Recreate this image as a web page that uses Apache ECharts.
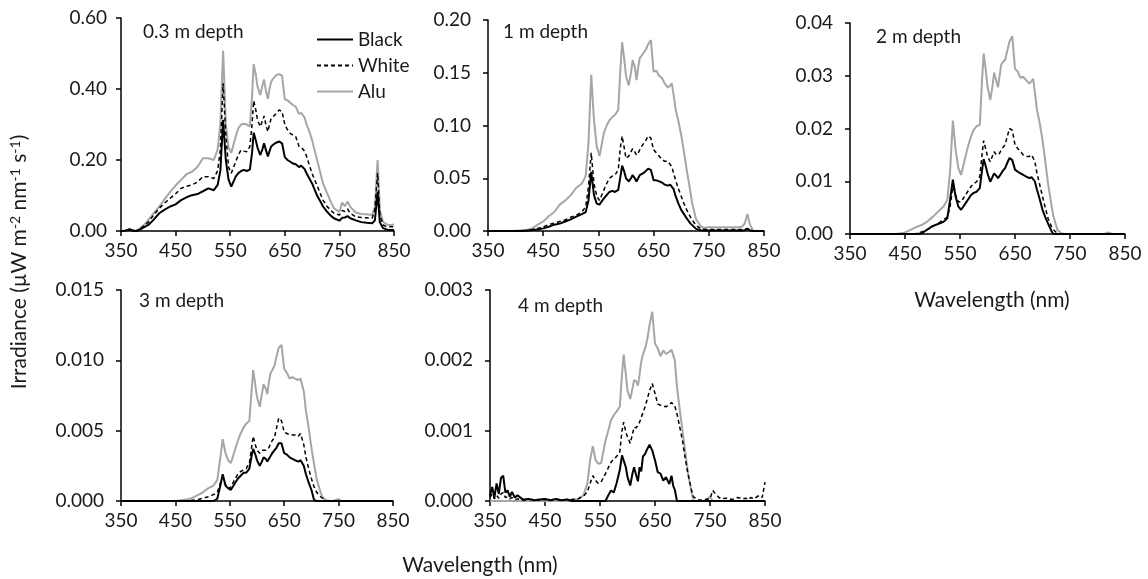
<!DOCTYPE html>
<html>
<head>
<meta charset="utf-8">
<script src="https://cdn.jsdelivr.net/npm/echarts@6/dist/echarts.min.js"></script>
<style>
  html, body { margin: 0; padding: 0; background: #fff; }
  #chart { width: 1148px; height: 579px; }
</style>
</head>
<body>
<div id="chart"></div>
<script>
// wavelength grid (nm), shared by every panel
const wl = [
  350, 354, 358, 362, 366, 370, 374, 378, 382, 386, 390, 395,
  400, 410, 420, 430, 440, 450, 460, 470, 480, 490, 500, 510, 520,
  527, 532, 537, 542, 547, 552,
  560, 565, 570, 575, 580, 586, 590, 593, 597, 600,
  605, 609, 612, 616, 619, 622, 625, 628, 632, 636, 640, 645,
  650, 655, 660, 665, 670, 676, 680, 683, 686, 690, 695, 700,
  705, 710, 717, 720, 727, 735, 740, 750, 755, 760, 765, 770,
  780, 790, 800, 810, 815, 820, 824, 830, 835, 840, 845, 850
];

// 0.3 m depth
const black03 = [
  0, 0, 0.001, 0.003, 0.004, 0.002, 0, 0, 0.002, 0.005, 0.009, 0.013,
  0.017, 0.032, 0.05, 0.06, 0.069, 0.075, 0.087, 0.095, 0.101, 0.104, 0.112, 0.12, 0.115,
  0.13, 0.17, 0.313, 0.2, 0.145, 0.125,
  0.153, 0.163, 0.169, 0.172, 0.169, 0.173, 0.22, 0.277, 0.255, 0.235,
  0.214, 0.23, 0.247, 0.225, 0.21, 0.225, 0.238, 0.24, 0.247, 0.25, 0.252, 0.247,
  0.208, 0.2, 0.195, 0.19, 0.188, 0.18, 0.184, 0.187, 0.175, 0.162, 0.148, 0.134,
  0.115, 0.097, 0.078, 0.069, 0.055, 0.042, 0.036, 0.029, 0.037, 0.038, 0.042, 0.036,
  0.03, 0.025, 0.023, 0.022, 0.03, 0.111, 0.025, 0.008, 0.005, 0.003, 0.003, 0.003
];
const white03 = [
  0, 0, 0.001, 0.003, 0.005, 0.003, 0.001, 0, 0.003, 0.007, 0.012, 0.018,
  0.025, 0.045, 0.064, 0.079, 0.092, 0.105, 0.12, 0.126, 0.13, 0.138, 0.153, 0.153, 0.148,
  0.17, 0.23, 0.416, 0.27, 0.18, 0.163,
  0.195, 0.215, 0.228, 0.225, 0.223, 0.238, 0.3, 0.367, 0.34, 0.313,
  0.294, 0.31, 0.324, 0.295, 0.28, 0.3, 0.317, 0.322, 0.327, 0.335, 0.341, 0.336,
  0.3, 0.285, 0.275, 0.27, 0.266, 0.238, 0.236, 0.24, 0.225, 0.21, 0.185, 0.162,
  0.143, 0.125, 0.098, 0.087, 0.07, 0.057, 0.05, 0.045, 0.058, 0.055, 0.062, 0.05,
  0.04, 0.038, 0.037, 0.036, 0.06, 0.163, 0.045, 0.017, 0.013, 0.012, 0.012, 0.012
];
const alu03 = [
  0, 0, 0.002, 0.004, 0.006, 0.004, 0.002, 0.001, 0.004, 0.009, 0.015, 0.022,
  0.031, 0.05, 0.069, 0.09, 0.11, 0.128, 0.144, 0.16, 0.167, 0.18, 0.205, 0.205, 0.2,
  0.23, 0.3, 0.508, 0.3, 0.235, 0.22,
  0.266, 0.29, 0.3, 0.302, 0.3, 0.295, 0.38, 0.47, 0.44, 0.407,
  0.383, 0.41, 0.427, 0.39, 0.372, 0.4, 0.42, 0.428, 0.435, 0.44, 0.442, 0.437,
  0.371, 0.368, 0.361, 0.355, 0.35, 0.33, 0.333, 0.336, 0.32, 0.3, 0.28, 0.256,
  0.225, 0.195, 0.152, 0.134, 0.108, 0.08, 0.064, 0.054, 0.08, 0.07, 0.083, 0.068,
  0.052, 0.048, 0.047, 0.045, 0.069, 0.2, 0.06, 0.026, 0.02, 0.017, 0.017, 0.018
];

// 1 m depth
const black1 = [
  0, 0, 0, 0, 0, 0, 0, 0, 0, 0, 0, 0,
  0, 0, 0.0003, 0.001, 0.0015, 0.0025, 0.004, 0.006, 0.007, 0.009, 0.011, 0.0136, 0.016,
  0.018, 0.029, 0.056, 0.034, 0.026, 0.025,
  0.031, 0.034, 0.037, 0.038, 0.037, 0.039, 0.052, 0.062, 0.056, 0.05,
  0.047, 0.05, 0.053, 0.05, 0.047, 0.05, 0.053, 0.054, 0.055, 0.057, 0.059, 0.058,
  0.048, 0.048, 0.047, 0.046, 0.044, 0.043, 0.044, 0.044, 0.04, 0.033, 0.026, 0.02,
  0.016, 0.012, 0.007, 0.0057, 0.002, 0.0007, 0.0005, 0.0005, 0.0005, 0.0005, 0.0005, 0.0005,
  0.0005, 0.0005, 0.0005, 0.0005, 0.0008, 0.002, 0.0008, 0, 0, 0, 0, 0
];
const white1 = [
  0, 0, 0, 0, 0, 0, 0, 0, 0, 0, 0, 0,
  0, 0.0003, 0.0008, 0.0015, 0.0025, 0.004, 0.006, 0.0073, 0.009, 0.0105, 0.013, 0.015, 0.018,
  0.023, 0.042, 0.074, 0.045, 0.033, 0.029,
  0.039, 0.045, 0.05, 0.052, 0.053, 0.058, 0.08, 0.09, 0.078, 0.069,
  0.071, 0.075, 0.078, 0.075, 0.072, 0.074, 0.077, 0.08, 0.083, 0.086, 0.09, 0.088,
  0.077, 0.074, 0.071, 0.068, 0.066, 0.066, 0.063, 0.061, 0.055, 0.048, 0.04, 0.033,
  0.026, 0.02, 0.013, 0.0105, 0.005, 0.0025, 0.0016, 0.0015, 0.0015, 0.0015, 0.0015, 0.0015,
  0.0015, 0.0015, 0.0015, 0.0015, 0.0018, 0.0025, 0.0015, 0, 0, 0, 0, 0
];
const alu1 = [
  0, 0, 0, 0, 0, 0, 0, 0, 0, 0, 0, 0,
  0.0003, 0.0006, 0.0012, 0.0025, 0.006, 0.009, 0.014, 0.018, 0.025, 0.029, 0.034, 0.041, 0.045,
  0.052, 0.083, 0.148, 0.105, 0.08, 0.071,
  0.093, 0.1, 0.105, 0.108, 0.11, 0.115, 0.155, 0.179, 0.162, 0.147,
  0.138, 0.15, 0.162, 0.155, 0.143, 0.155, 0.164, 0.166, 0.169, 0.172, 0.177, 0.181,
  0.151, 0.152, 0.147, 0.145, 0.14, 0.136, 0.138, 0.14, 0.13, 0.115, 0.104, 0.091,
  0.075, 0.058, 0.036, 0.026, 0.011, 0.005, 0.003, 0.0035, 0.0035, 0.0035, 0.0035, 0.0035,
  0.0035, 0.0035, 0.0035, 0.004, 0.007, 0.016, 0.007, 0.0003, 0, 0, 0, 0
];

// 2 m depth
const black2 = [
  0, 0, 0, 0, 0, 0, 0, 0, 0, 0, 0, 0,
  0, 0, 0, 0, 0, 0, 0, 0, 0.0001, 0.0008, 0.0015, 0.0019, 0.0023,
  0.003, 0.0065, 0.0103, 0.0071, 0.0052, 0.0046,
  0.0058, 0.0066, 0.0074, 0.0078, 0.008, 0.0087, 0.012, 0.0142, 0.0128, 0.0115,
  0.0099, 0.0108, 0.0115, 0.011, 0.0106, 0.011, 0.0115, 0.012, 0.0125, 0.0135, 0.0144, 0.014,
  0.0122, 0.0118, 0.0115, 0.0112, 0.0109, 0.0106, 0.0108, 0.0109, 0.01, 0.0084, 0.0066, 0.0046,
  0.0032, 0.002, 0.0004, 0, 0, 0, 0, 0, 0, 0, 0, 0,
  0, 0, 0, 0, 0, 0, 0, 0, 0, 0, 0, 0
];
const white2 = [
  0, 0, 0, 0, 0, 0, 0, 0, 0, 0, 0, 0,
  0, 0, 0, 0, 0, 0, 0, 0.0001, 0.0004, 0.0008, 0.0014, 0.002, 0.0027,
  0.0032, 0.0052, 0.009, 0.0074, 0.0061, 0.0061,
  0.0074, 0.0082, 0.009, 0.0095, 0.0099, 0.0109, 0.015, 0.0177, 0.016, 0.0147,
  0.0137, 0.0148, 0.0156, 0.015, 0.0147, 0.0153, 0.016, 0.0164, 0.0169, 0.0185, 0.02, 0.0197,
  0.0169, 0.0162, 0.0156, 0.015, 0.0147, 0.0147, 0.015, 0.0153, 0.0138, 0.0115, 0.0093, 0.0071,
  0.005, 0.003, 0.0012, 0.0008, 0.0001, 0, 0, 0, 0, 0, 0, 0,
  0, 0, 0, 0, 0, 0, 0, 0, 0, 0, 0, 0
];
const alu2 = [
  0, 0, 0, 0, 0, 0, 0, 0, 0, 0, 0, 0,
  0, 0, 0, 0, 0.0001, 0.0003, 0.0008, 0.0013, 0.0017, 0.0023, 0.0032, 0.0042, 0.0052,
  0.0065, 0.012, 0.0215, 0.016, 0.0125, 0.0112,
  0.0147, 0.0168, 0.0185, 0.0198, 0.0204, 0.0207, 0.029, 0.0342, 0.031, 0.028,
  0.0254, 0.028, 0.0306, 0.029, 0.0278, 0.03, 0.0321, 0.0326, 0.033, 0.0348, 0.0365, 0.0375,
  0.0313, 0.0308, 0.0296, 0.0298, 0.0292, 0.0285, 0.029, 0.0294, 0.027, 0.0235, 0.021, 0.0178,
  0.0138, 0.0096, 0.005, 0.0033, 0.0008, 0.0001, 0, 0, 0, 0, 0, 0,
  0, 0, 0, 0, 0.0001, 0.0003, 0.0001, 0, 0, 0, 0, 0
];

// 3 m depth
const black3 = [
  0, 0, 0, 0, 0, 0, 0, 0, 0, 0, 0, 0,
  0, 0, 0, 0, 0, 0, 0, 0, 0, 0, 0, 0, 0,
  0.00016, 0.001, 0.0019, 0.0011, 0.0009, 0.0008,
  0.0013, 0.0016, 0.0018, 0.002, 0.002, 0.0023, 0.0032, 0.0037, 0.0033, 0.0029,
  0.0025, 0.0028, 0.0031, 0.003, 0.0028, 0.003, 0.0032, 0.0034, 0.0036, 0.0038, 0.0041, 0.0041,
  0.0034, 0.0033, 0.0031, 0.003, 0.0029, 0.0028, 0.0029, 0.0028, 0.0025, 0.0019, 0.0013, 0.0008,
  0.00005, 0, 0, 0, 0, 0, 0, 0, 0, 0, 0, 0,
  0, 0, 0, 0, 0, 0, 0, 0, 0, 0, 0, 0
];
const white3 = [
  0, 0, 0, 0, 0, 0, 0, 0, 0, 0, 0, 0,
  0, 0, 0, 0, 0, 0, 0, 0, 0.00005, 0.0001, 0.0002, 0.0003, 0.00045,
  0.0006, 0.0012, 0.0017, 0.0012, 0.0009, 0.001,
  0.0016, 0.0019, 0.0021, 0.0022, 0.0023, 0.0027, 0.0038, 0.0046, 0.004, 0.0036,
  0.0034, 0.0036, 0.0037, 0.0036, 0.0035, 0.0038, 0.0041, 0.0043, 0.0045, 0.0052, 0.0059, 0.0057,
  0.0049, 0.0048, 0.0047, 0.0047, 0.0047, 0.0046, 0.0048, 0.0048, 0.004, 0.0031, 0.0023, 0.0016,
  0.001, 0.0006, 0.0003, 0.0002, 0, 0, 0, 0, 0, 0, 0, 0,
  0, 0, 0, 0, 0, 0, 0, 0, 0, 0, 0, 0
];
const alu3 = [
  0, 0, 0, 0, 0, 0, 0, 0, 0, 0, 0, 0,
  0, 0, 0, 0, 0, 0, 0.00005, 0.0001, 0.0002, 0.0004, 0.0006, 0.0009, 0.0011,
  0.0015, 0.0029, 0.0044, 0.0034, 0.0029, 0.0027,
  0.0037, 0.0043, 0.0048, 0.0052, 0.0055, 0.0057, 0.0078, 0.0093, 0.0082, 0.0074,
  0.0067, 0.0076, 0.0083, 0.008, 0.0076, 0.0085, 0.0091, 0.0093, 0.0096, 0.0103, 0.0109, 0.0111,
  0.0094, 0.0091, 0.0087, 0.0088, 0.0087, 0.0086, 0.0087, 0.0088, 0.0078, 0.0064, 0.0052, 0.0038,
  0.0026, 0.0015, 0.0006, 0.0003, 0.00005, 0, 0, 0.00014, 0, 0, 0, 0,
  0, 0, 0, 0, 0, 0, 0, 0, 0, 0, 0, 0
];

// 4 m depth
const black4 = [
  0.00008, 0.0002, 0.00005, 0.00025, 0.0001, 0.00033, 0.00036, 0.00012, 0.00015, 0.00006, 0.00013, 0.00005,
  0.00008, 0.00002, 0.00003, 0.00001, 0.00002, 0.00003, 0.00001, 0.00003, 0.00001, 0.00002, 0, 0, 0,
  0, 0, 0, 0, 0, 0,
  0, 0.00008, 0.00015, 0.00012, 0.00025, 0.00044, 0.00065, 0.00067, 0.00048, 0.00034,
  0.00022, 0.00039, 0.00048, 0.00036, 0.00028, 0.00048, 0.00042, 0.00063, 0.00067, 0.00074, 0.0008, 0.00072,
  0.00058, 0.00041, 0.00039, 0.00029, 0.00034, 0.00024, 0.00036, 0.00022, 0.00016, 0, 0, 0,
  0, 0, 0, 0, 0, 0, 0, 0, 0, 0, 0, 0,
  0, 0, 0, 0, 0, 0, 0, 0, 0, 0, 0, 0
];
const white4 = [
  0.00005, 0.0001, 0.00003, 0.00008, 0.00004, 0.0001, 0.00012, 0.00005, 0.00006, 0.00003, 0.00005, 0.00002,
  0.00003, 0.00001, 0.00002, 0.00002, 0.00001, 0.00002, 0.00001, 0.00002, 0.00001, 0.00002, 0.00002, 0.00003, 0.00007,
  0.00013, 0.00025, 0.00036, 0.00029, 0.00025, 0.00027,
  0.00039, 0.00047, 0.00055, 0.0006, 0.00063, 0.0007, 0.001, 0.00112, 0.00098, 0.00091,
  0.00082, 0.00095, 0.00105, 0.00104, 0.00103, 0.00112, 0.00119, 0.00125, 0.00134, 0.00145, 0.00157, 0.00167,
  0.00153, 0.00138, 0.00136, 0.00135, 0.00134, 0.00137, 0.0014, 0.00142, 0.00135, 0.00124, 0.00105, 0.00086,
  0.0006, 0.00039, 0.00013, 0.00006, 0.00002, 0.00001, 0.00002, 0.00003, 0.00015, 0.0001, 0.00006, 0.00003,
  0.00004, 0.00002, 0.00005, 0.00003, 0.00004, 0.00002, 0.00005, 0.00003, 0.00006, 0.00008, 0.00005, 0.00027
];
const alu4 = [
  0, 0, 0, 0, 0, 0, 0, 0, 0, 0, 0, 0,
  0, 0, 0, 0, 0, 0, 0, 0, 0, 0, 0.00002, 0.00003, 0.00008,
  0.00025, 0.00058, 0.00078, 0.00058, 0.00053, 0.00054,
  0.00086, 0.001, 0.00115, 0.00122, 0.00127, 0.00134, 0.0018, 0.00208, 0.0018, 0.00157,
  0.00145, 0.0016, 0.00172, 0.0017, 0.00164, 0.0018, 0.00198, 0.00208, 0.00217, 0.0023, 0.0025, 0.00269,
  0.00224, 0.00217, 0.00206, 0.00214, 0.00209, 0.00212, 0.00215, 0.00217, 0.002, 0.00162, 0.0013, 0.001,
  0.0007, 0.00039, 0.0001, 0, 0, 0, 0, 0.00006, 0, 0, 0, 0,
  0, 0, 0, 0, 0, 0, 0, 0, 0, 0, 0, 0
];

const seriesNames = ['Black', 'White', 'Alu'];
const depthLabels = ['0.3 m depth', '1 m depth', '2 m depth', '3 m depth', '4 m depth'];
const yMax = [0.6, 0.2, 0.04, 0.015, 0.003];
const yStep = [0.2, 0.05, 0.01, 0.005, 0.001];
const yDecimals = [2, 2, 2, 3, 3];
const panelData = [
  [black03, white03, alu03],
  [black1, white1, alu1],
  [black2, white2, alu2],
  [black3, white3, alu3],
  [black4, white4, alu4]
];

// layout
const gridBoxes = [
  { left: 121, top: 18, width: 273, height: 213 },
  { left: 488, top: 20, width: 276, height: 211 },
  { left: 850, top: 23, width: 275, height: 211 },
  { left: 121, top: 290, width: 272, height: 211 },
  { left: 490, top: 290, width: 275, height: 211 }
];
const labelMargin = [14, 17, 17, 17, 17];
const labelPos = [[143, 33], [503, 33], [876, 38], [139, 302], [518, 307]];

const FONT = 'Lato, "Open Sans", sans-serif';
const TXT = '#1a1a1a';
const lineStyles = [
  { color: '#000', width: 2, type: 'solid' },
  { color: '#000', width: 1.5, type: [4, 3] },
  { color: '#a6a6a6', width: 2, type: 'solid' }
];

const myChart = echarts.init(document.getElementById('chart'));

let grid = [], xAxis = [], yAxis = [], series = [], graphic = [];
gridBoxes.forEach((box, p) => {
  grid.push(box);
  xAxis.push({
    type: 'value', gridIndex: p, min: 350, max: 850, interval: 100,
    axisLine: { lineStyle: { color: '#000', width: 1.5 } },
    axisTick: { show: true, length: 5, lineStyle: { color: '#000', width: 1.5 } },
    splitLine: { show: false },
    axisLabel: { color: TXT, fontSize: 19, fontFamily: FONT, margin: 10 }
  });
  yAxis.push({
    type: 'value', gridIndex: p, min: 0, max: yMax[p], interval: yStep[p],
    axisLine: { show: true, lineStyle: { color: '#000', width: 1.5 } },
    axisTick: { show: true, length: 5, lineStyle: { color: '#000', width: 1.5 } },
    splitLine: { show: false },
    axisLabel: {
      color: TXT, fontSize: 19, fontFamily: FONT, margin: labelMargin[p],
      formatter: v => v.toFixed(yDecimals[p])
    }
  });
  // draw Alu first, Black last so black sits on top
  [2, 1, 0].forEach(k => {
    const vals = panelData[p][k];
    series.push({
      name: seriesNames[k],
      type: 'line',
      xAxisIndex: p, yAxisIndex: p,
      data: wl.map((w, i) => [w, vals[i]]),
      symbol: 'none',
      lineStyle: lineStyles[k],
      itemStyle: { color: lineStyles[k].color },
      z: 3 + (2 - k),
      silent: true
    });
  });
  graphic.push({
    type: 'text', left: labelPos[p][0], top: labelPos[p][1] - 11,
    style: { text: depthLabels[p], font: '19px ' + FONT, fill: TXT }
  });
});

graphic.push({
  type: 'text', x: 19, y: 262, rotation: Math.PI / 2,
  style: {
    text: 'Irradiance (µW m{sup|-2} nm{sup|-1} s{sup|-1})',
    font: '21px ' + FONT, fill: TXT, align: 'center', verticalAlign: 'middle',
    rich: { sup: { fontSize: 14, fontFamily: FONT, fill: TXT, verticalAlign: 'top', lineHeight: 21 } }
  }
});
graphic.push({
  type: 'text', x: 992, y: 300,
  style: { text: 'Wavelength (nm)', font: '21px ' + FONT, fill: TXT, align: 'center', verticalAlign: 'middle' }
});
graphic.push({
  type: 'text', x: 480, y: 565,
  style: { text: 'Wavelength (nm)', font: '21px ' + FONT, fill: TXT, align: 'center', verticalAlign: 'middle' }
});

const option = {
  animation: false,
  backgroundColor: '#fff',
  legend: {
    data: seriesNames,
    orient: 'vertical',
    left: 311, top: 25,
    itemWidth: 36, itemHeight: 16, itemGap: 7,
    itemStyle: { opacity: 0 },
    textStyle: { color: TXT, fontSize: 19, fontFamily: FONT },
    selectedMode: false
  },
  grid: grid,
  xAxis: xAxis,
  yAxis: yAxis,
  series: series,
  graphic: graphic
};
myChart.setOption(option);
</script>
</body>
</html>
